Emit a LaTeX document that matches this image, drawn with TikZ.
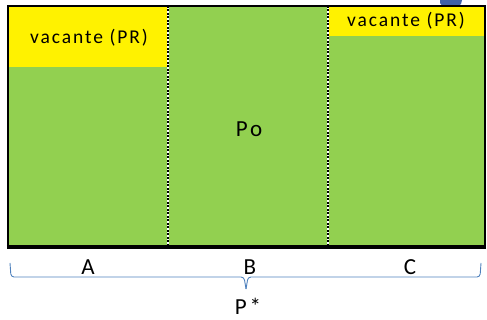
\documentclass[tikz,border=0pt]{standalone}
\usepackage{fontspec}
\setmainfont{Carlito}
\newfontfamily\lbl[LetterSpace=10]{Carlito}
\newfontfamily\lblw[LetterSpace=12]{Carlito}
\begin{document}
\begin{tikzpicture}[x=1pt,y=-1pt,
  lab/.style={font=\lbl\fontsize{19.5}{22}\selectfont, text=black, inner sep=0pt},
  big/.style={font=\lblw\fontsize{23}{26}\selectfont, text=black, inner sep=0pt},
  sep/.style={line width=1.8pt}]
\useasboundingbox (0,0) rectangle (487,320);
% blue fragment at top right
\fill[fill={rgb,255:red,63;green,98;blue,168}] (440,0) -- (462,0) -- (461,4) .. controls (460,6) and (458,6) .. (455,6) -- (444,6) .. controls (442,6) and (441,5) .. (440,3) -- cycle;
% fills
\fill[fill={rgb,255:red,146;green,208;blue,80}] (8,6) rectangle (485,247);
\fill[yellow] (8,6) rectangle (168,67);
\fill[yellow] (328,6) rectangle (485,36);
% separators
\coordinate (s1t) at (168,6); \coordinate (s1b) at (168,247);
\coordinate (s2t) at (328,6); \coordinate (s2b) at (328,247);
\draw[sep, white] (s1t) -- (s1b);
\draw[sep, black, dash pattern=on 2pt off 1.5pt] (s1t) -- (s1b);
\draw[sep, white] (s2t) -- (s2b);
\draw[sep, black, dash pattern=on 2pt off 1.5pt] (s2t) -- (s2b);
% outline
\draw[line width=2.5pt] (8,6) rectangle (485,247);
\draw[line width=3.5pt] (6.75,247) -- (486.25,247);
% texts
\node[lab] (v1) at (89,38) {vacante (PR)};
\node[lab] (v2) at (406,21) {vacante (PR)};
\node[big] (po) at (249,129) {Po};
\node[big] (a) at (88,267) {A};
\node[big] (b) at (250,267) {B};
\node[big] (c) at (410,267) {C};
\node[big] (p) at (248,306) {P*};
% brace
\draw[line width=0.9pt, draw={rgb,255:red,79;green,129;blue,189}, rounded corners=3pt]
  (10,263) -- (11,277) -- (244,277) -- (246,289);
\draw[line width=0.9pt, draw={rgb,255:red,79;green,129;blue,189}, rounded corners=3pt]
  (246,289) -- (248,277) -- (480,277) -- (481,263);
\end{tikzpicture}
\end{document}
